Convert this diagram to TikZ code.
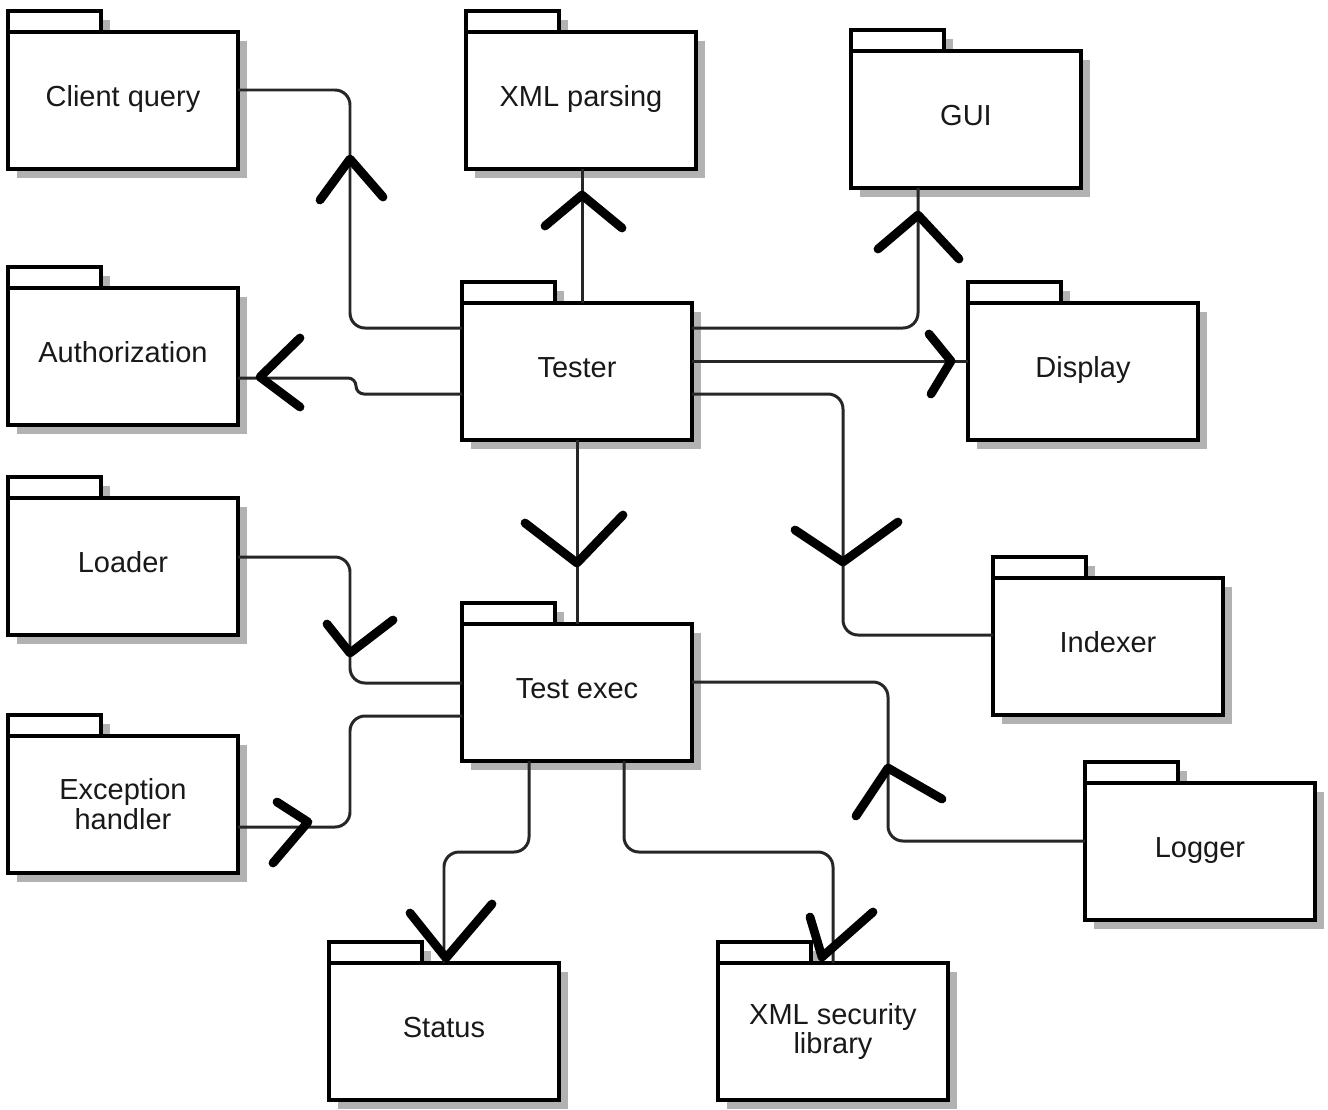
\documentclass[tikz,border=0pt]{standalone}
\usepackage{fontspec}
\setmainfont{Liberation Sans}
\usetikzlibrary{shadows}

\tikzset{
  pkg/.style={draw, line width=2.4pt, fill=white, outer sep=0pt,
    minimum width=4.6cm, minimum height=2.74cm, align=center,
    text=black!90, font=\fontsize{16.5}{17}\selectfont,
    drop shadow={shadow xshift=0.18cm, shadow yshift=-0.18cm, fill=black!30, opacity=1}},
  oneline/.style={text height=12pt, text depth=4.8pt},
  pkgtab/.style={draw, line width=2.4pt, fill=white},
  dep/.style={draw=black!85, line width=1.7pt, rounded corners=0.3cm},
  chev/.style={draw=black, line width=5pt, line cap=round, line join=round}
}

% package: [extra], name, left, top of body, label
\newcommand{\pkgbox}[5][oneline]{%
  \fill[black!30] (#3+9,#4-12) rectangle ++(93,21);
  \draw[pkgtab] (#3,#4-21) rectangle ++(93,21);
  \node[pkg, #1, anchor=north west] (#2) at (#3,#4) {#5};
}

\begin{document}
\begin{tikzpicture}[x=0.02cm,y=-0.02cm]
       \useasboundingbox (0,0) rectangle (1328,1109);

       \pkgbox{client}{8}{32}{Client query}
       \pkgbox{xmlparse}{466}{32}{XML parsing}
       \pkgbox{gui}{851}{51}{GUI}
       \pkgbox{authz}{8}{288}{Authorization}
       \pkgbox{tester}{462}{303}{Tester}
       \pkgbox{display}{968}{303}{Display}
       \pkgbox{loader}{8}{498}{Loader}
       \pkgbox{indexer}{993}{578}{Indexer}
       \pkgbox{testexec}{462}{624}{Test exec}
       \pkgbox[]{exhandler}{8}{736}{Exception\\handler}
       \pkgbox{logger}{1085}{783}{Logger}
       \pkgbox{status}{329}{963}{Status}
       \pkgbox[]{xmlsec}{718}{963}{XML security\\library}

       % Tester
       \draw[dep] (tester.west |- 0,328) -| (350,90) -- (client.east |- 0,90);
       \draw[dep, rounded corners=0.16cm] (tester.west |- 0,394) -- (356,394) |- (authz.east |- 0,378);
       \draw[dep] (tester.north -| 582,0) -- (xmlparse.south -| 582,0);
       \draw[dep] (tester.east |- 0,328) -| (gui.south -| 918,0);
       \draw[dep] (tester.east |- 0,361) -- (display.west |- 0,361);
       \draw[dep] (tester.east |- 0,394) -| (843,635) -- (indexer.west |- 0,635);
       \draw[dep] (tester.south -| 577,0) -- (testexec.north -| 577,0);

       % Test exec
       \draw[dep] (loader.east |- 0,557) -| (350,683) -- (testexec.west |- 0,683);
       \draw[dep] (exhandler.east |- 0,827) -| (350,716) -- (testexec.west |- 0,716);
       \draw[dep] (logger.west |- 0,841) -| (888,682) -- (testexec.east |- 0,682);
       \draw[dep] (testexec.south -| 529,0) |- (444,852) -- (status.north -| 444,0);
       \draw[dep] (testexec.south -| 624,0) |- (833,852) -- (xmlsec.north -| 833,0);

       % arrowheads
       \draw[chev] (320,200) -- (350,159) -- (383,197);
       \draw[chev] (300,338) -- (260,377) -- (300,407);
       \draw[chev] (545,226) -- (582,195) -- (622,228);
       \draw[chev] (878,249) -- (918,215) -- (959,259);
       \draw[chev] (929,334) -- (951,361) -- (931,394);
       \draw[chev] (795,530) -- (843,562) -- (898,522);
       \draw[chev] (525,523) -- (577,563) -- (623,515);
       \draw[chev] (327,624) -- (350,653) -- (393,620);
       \draw[chev] (277,802) -- (308,822) -- (273,863);
       \draw[chev] (856,816) -- (888,768) -- (942,799);
       \draw[chev] (410,913) -- (446,958) -- (492,904);
       \draw[chev] (810,917) -- (822,957) -- (873,912);
\end{tikzpicture}
\end{document}
